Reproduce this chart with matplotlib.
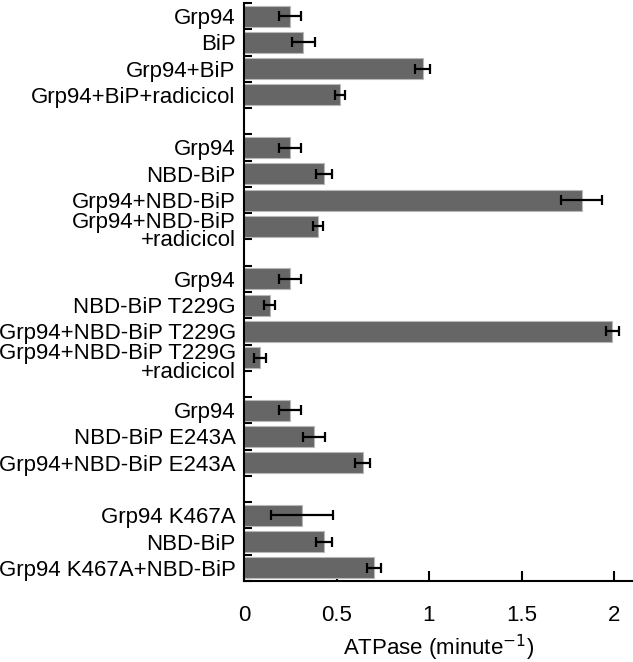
import matplotlib
matplotlib.use("Agg")
import matplotlib.pyplot as plt
import numpy as np
from matplotlib.transforms import ScaledTranslation

plt.rcParams['font.family'] = ['Liberation Sans', 'DejaVu Sans']

# data
group_sizes = [4, 4, 4, 3, 3]
labels = [
    "Grp94", "BiP", "Grp94+BiP", "Grp94+BiP+radicicol",
    "Grp94", "NBD-BiP", "Grp94+NBD-BiP", "Grp94+NBD-BiP\n+radicicol",
    "Grp94", "NBD-BiP T229G", "Grp94+NBD-BiP T229G", "Grp94+NBD-BiP T229G\n+radicicol",
    "Grp94", "NBD-BiP E243A", "Grp94+NBD-BiP E243A",
    "Grp94 K467A", "NBD-BiP", "Grp94 K467A+NBD-BiP",
]
values = [0.25, 0.32, 0.965, 0.52,
          0.25, 0.432, 1.825, 0.40,
          0.25, 0.14, 1.99, 0.086,
          0.25, 0.378, 0.641,
          0.313, 0.432, 0.703]
errors = [0.06, 0.062, 0.04, 0.028,
          0.06, 0.044, 0.11, 0.027,
          0.06, 0.03, 0.035, 0.033,
          0.06, 0.06, 0.042,
          0.167, 0.042, 0.04]
xticks = [0, 0.5, 1, 1.5, 2]
xtick_labels = ["0", "0.5", "1", "1.5", "2"]

# positions: one empty slot between groups
pos = []
s = 0
for g in group_sizes:
    for _ in range(g):
        pos.append(s)
        s += 1
    s += 1
nslots = s - 1

fig = plt.figure(figsize=(6.33, 6.62), dpi=100)
ax = fig.add_axes([244/633, 81/662, (633-244)/633, (581-3)/662])

ax.barh(pos, values, height=0.8, color='#666666', edgecolor='#b8b8b8', linewidth=0.8, zorder=2)
ax.errorbar(values, pos, xerr=errors, fmt='none', ecolor='black', elinewidth=1.6,
            capsize=3.5, capthick=1.6, zorder=3)

ax.set_xlim(0, (633-244)/185)
ax.set_ylim(nslots - 0.5, -0.5)

ax.spines['top'].set_visible(False)
ax.spines['right'].set_visible(False)
ax.spines['left'].set_linewidth(1.5)
ax.spines['bottom'].set_linewidth(1.5)

FS = 16
ax.set_yticks(pos)
ax.set_yticklabels(labels, fontsize=FS, ha='right', linespacing=0.85)
ax.tick_params(axis='y', which='major', length=0, pad=6)
ax.set_yticks(np.arange(nslots + 1) - 0.5, minor=True)
ax.tick_params(axis='y', which='minor', direction='in', length=6, width=1.5)

ax.set_xticks(xticks)
ax.set_xticklabels(xtick_labels, fontsize=FS)
ax.tick_params(axis='x', direction='in', length=7, width=1.5, pad=17)

ax.set_xlabel("ATPase (minute$^{-1}$)", fontsize=FS, labelpad=5)

for lab in ax.get_yticklabels():
    if "\n" in lab.get_text():
        lab.set_transform(lab.get_transform() + ScaledTranslation(0, -4/100, fig.dpi_scale_trans))

fig.savefig("out.png", dpi=100)
